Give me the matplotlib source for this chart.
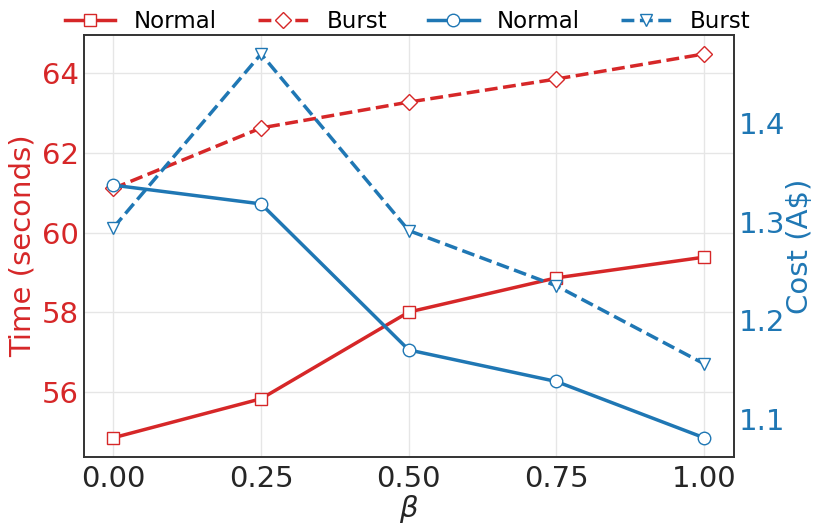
import matplotlib
matplotlib.use("Agg")
import matplotlib.pyplot as plt

beta = [0.0, 0.25, 0.5, 0.75, 1.0]
time_normal = [54.84, 55.82, 58.0, 58.86, 59.38]
time_burst = [61.11, 62.63, 63.28, 63.86, 64.49]
cost_normal = [1.337, 1.318, 1.170, 1.138, 1.081]
cost_burst = [1.294, 1.470, 1.291, 1.235, 1.156]

red = "#d62728"
blue = "#1f77b4"

plt.rcParams["font.family"] = "DejaVu Sans"

fig, ax = plt.subplots(figsize=(8.15, 5.27), dpi=100)
ax2 = ax.twinx()

l1, = ax.plot(beta, time_normal, color=red, lw=2.5, marker="s", ms=9,
              mfc="white", mec=red, label="Normal")
l2, = ax.plot(beta, time_burst, color=red, lw=2.5, ls="--", marker="D", ms=8,
              mfc="white", mec=red, label="Burst")
l3, = ax2.plot(beta, cost_normal, color=blue, lw=2.5, marker="o", ms=9,
               mfc="white", mec=blue, label="Normal")
l4, = ax2.plot(beta, cost_burst, color=blue, lw=2.5, ls="--", marker="v", ms=9,
               mfc="white", mec=blue, label="Burst")

ax.grid(True, color="#e6e6e6", lw=1)
ax.set_axisbelow(True)
ax.set_xticks(beta)
ax.set_xticklabels(["0.00", "0.25", "0.50", "0.75", "1.00"])
ax.set_yticks([56, 58, 60, 62, 64])
ax2.set_yticks([1.1, 1.2, 1.3, 1.4])

ax.tick_params(axis="x", labelsize=21, length=0, colors="#262626", pad=6)
ax.tick_params(axis="y", labelsize=21, length=0, labelcolor=red)
ax2.tick_params(axis="y", labelsize=21, length=0, labelcolor=blue)

ax.set_xlabel(r"$\beta$", fontsize=21, color="#262626", labelpad=0)
ax.set_ylabel("Time (seconds)", fontsize=21, color=red)
ax2.set_ylabel("Cost (A$)", fontsize=21, color=blue, labelpad=1)

for a in (ax, ax2):
    for s in a.spines.values():
        s.set_color("#333333")
        s.set_linewidth(1.2)

fig.legend(handles=[l1, l2, l3, l4], loc="upper center", ncol=4,
           frameon=False, fontsize=16.5, bbox_to_anchor=(0.5, 1.02),
           handlelength=2.2, columnspacing=1.8)

fig.subplots_adjust(left=0.103, right=0.9, top=0.934, bottom=0.133)
fig.savefig("out.png", dpi=100)
